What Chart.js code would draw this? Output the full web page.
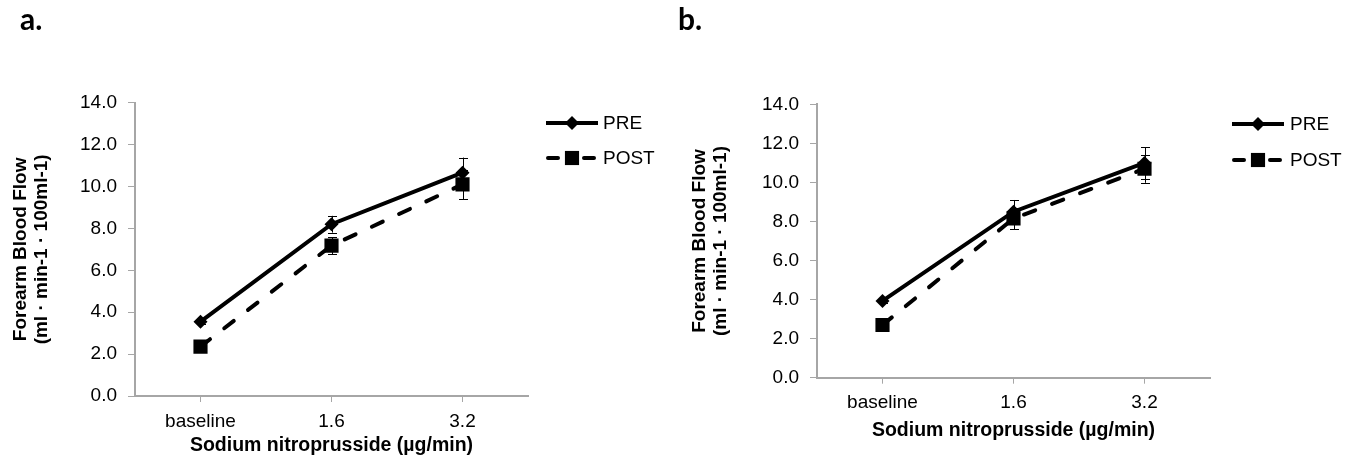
<!DOCTYPE html>
<html>
<head>
<meta charset="utf-8">
<script src="https://cdn.jsdelivr.net/npm/chart.js@4.4.1/dist/chart.umd.min.js"></script>
<style>
  html, body { margin: 0; padding: 0; background: #fff; }
  #wrap { position: relative; width: 1358px; height: 464px; overflow: hidden; }
  .panel { position: absolute; top: 0; height: 464px; }
</style>
</head>
<body>
<div id="wrap">
  <div class="panel" style="left:0;width:670px"><canvas id="chartA" width="670" height="464"></canvas></div>
  <div class="panel" style="left:670px;width:688px"><canvas id="chartB" width="688" height="464"></canvas></div>
</div>
<script>
// categories and tick labels
const doses = ["baseline", "1.6", "3.2"];
const seriesNames = ["PRE", "POST"];
const yTicks = [0, 2, 4, 6, 8, 10, 12, 14];
const xTitle = "Sodium nitroprusside (\u00b5g/min)";
const yTitle = ["Forearm Blood Flow", "(ml \u00b7 min-1 \u00b7 100ml-1)"];

// panel a
const preA = [3.55, 8.2, 10.66];
const postA = [2.36, 7.18, 10.1];
const preErrA = [0.1, 0.4, 0.72];
const postErrA = [0.15, 0.4, 0.7];

// panel b
const preB = [3.93, 8.5, 11.0];
const postB = [2.7, 8.15, 10.7];
const preErrB = [0.1, 0.6, 0.8];
const postErrB = [0.15, 0.55, 0.72];

const AXIS_GREY = "#a6a6a6";
const FONT = "'Liberation Sans', Arial, sans-serif";

// vertical error bars with caps
const errorBars = {
  id: "errorBars",
  afterDatasetsDraw(chart, args, opts) {
    const ctx = chart.ctx;
    const y = chart.scales.y;
    ctx.save();
    ctx.strokeStyle = "#000";
    ctx.lineWidth = 1;
    chart.data.datasets.forEach((ds, i) => {
      const errs = opts.errors[i];
      chart.getDatasetMeta(i).data.forEach((pt, j) => {
        const top = y.getPixelForValue(ds.data[j] + errs[j]);
        const bot = y.getPixelForValue(ds.data[j] - errs[j]);
        const x = Math.round(pt.x) + 0.5;
        ctx.beginPath();
        ctx.moveTo(x, top); ctx.lineTo(x, bot);
        ctx.moveTo(x - 4.5, Math.round(top) + 0.5); ctx.lineTo(x + 4.5, Math.round(top) + 0.5);
        ctx.moveTo(x - 4.5, Math.round(bot) + 0.5); ctx.lineTo(x + 4.5, Math.round(bot) + 0.5);
        ctx.stroke();
      });
    });
    ctx.restore();
  }
};

// legend drawn as line + marker, like the original
const seriesKey = {
  id: "seriesKey",
  afterDraw(chart, args, opts) {
    const ctx = chart.ctx;
    ctx.save();
    chart.data.datasets.forEach((ds, i) => {
      const yy = opts.rows[i];
      ctx.strokeStyle = "#000";
      ctx.fillStyle = "#000";
      ctx.lineWidth = 4;
      ctx.lineCap = ds.borderDash.length ? "round" : "butt";
      ctx.setLineDash(ds.borderDash.length ? [10, 26] : []);
      ctx.beginPath();
      const inset = ds.borderDash.length ? 2 : 0;
      ctx.moveTo(opts.x0 + inset, yy);
      ctx.lineTo(opts.x1 - inset, yy);
      ctx.stroke();
      ctx.setLineDash([]);
      Chart.helpers.drawPoint(ctx, {
        pointStyle: ds.pointStyle, radius: ds.pointRadius, rotation: 0, borderWidth: 0
      }, (opts.x0 + opts.x1) / 2, yy);
      ctx.font = "19px " + FONT;
      ctx.textBaseline = "middle";
      ctx.textAlign = "left";
      ctx.fillText(ds.label, opts.textX, yy + 1);
    });
    ctx.restore();
  }
};

const panelLabel = {
  id: "panelLabel",
  afterDraw(chart, args, opts) {
    const ctx = chart.ctx;
    ctx.save();
    ctx.fillStyle = "#000";
    ctx.font = "bold 30px Lato, 'Open Sans', sans-serif";
    ctx.textBaseline = "alphabetic";
    ctx.fillText(opts.text, opts.x, opts.y);
    ctx.restore();
  }
};

function buildChart(id, cfg) {
  const canvas = document.getElementById(id);
  const W = canvas.width, H = canvas.height;
  return new Chart(canvas, {
    type: "line",
    data: {
      labels: doses,
      datasets: [
        {
          label: seriesNames[0],
          data: cfg.pre,
          borderColor: "#000",
          backgroundColor: "#000",
          borderWidth: 4,
          borderDash: [],
          pointStyle: "rectRot",
          pointRadius: 7,
          pointBorderWidth: 0,
          tension: 0,
          order: 1
        },
        {
          label: seriesNames[1],
          data: cfg.post,
          borderColor: "#000",
          backgroundColor: "#000",
          borderWidth: 4,
          borderDash: [12, 18],
          borderCapStyle: "round",
          pointStyle: "rect",
          pointRadius: 10,
          pointBorderWidth: 0,
          tension: 0,
          order: 0
        }
      ]
    },
    options: {
      responsive: false,
      animation: false,
      devicePixelRatio: 1,
      layout: {
        padding: { left: 0, top: cfg.area.top, right: W - cfg.area.right, bottom: 0 }
      },
      plugins: {
        legend: { display: false },
        tooltip: { enabled: false },
        errorBars: { errors: [cfg.preErr, cfg.postErr] },
        seriesKey: cfg.key,
        panelLabel: cfg.label
      },
      scales: {
        x: {
          offset: true,
          afterFit: s => { s.height = H - cfg.area.bottom; },
          border: { display: true, color: AXIS_GREY, width: 2 },
          grid: { display: true, drawOnChartArea: false, drawTicks: true, tickLength: 6, color: AXIS_GREY, offset: false },
          ticks: { color: "#000", font: { family: FONT, size: 19 }, padding: 8, maxRotation: 0 },
          title: {
            display: true, text: xTitle, color: "#000",
            font: { family: FONT, size: 19.5, weight: "bold" },
            padding: { top: 0, bottom: cfg.xTitlePad }
          }
        },
        y: {
          min: 0,
          max: 14,
          afterFit: s => { s.width = cfg.area.left; },
          afterBuildTicks: s => { s.ticks = yTicks.map(v => ({ value: v })); },
          border: { display: true, color: AXIS_GREY, width: 2 },
          grid: { display: true, drawOnChartArea: false, drawTicks: true, tickLength: 7, color: AXIS_GREY },
          ticks: {
            color: "#000",
            font: { family: FONT, size: 19 },
            padding: 11,
            callback: v => v.toFixed(1)
          },
          title: {
            display: true, text: yTitle, color: "#000",
            font: { family: FONT, size: 19, weight: "bold", lineHeight: 1.1 },
            padding: { top: cfg.yTitlePad, bottom: 0 }
          }
        }
      }
    },
    plugins: [errorBars, seriesKey, panelLabel]
  });
}

buildChart("chartA", {
  pre: preA, post: postA, preErr: preErrA, postErr: postErrA,
  area: { left: 135, right: 528, top: 102.7, bottom: 396 },
  xTitlePad: 7,
  yTitlePad: 10.5,
  key: { x0: 546, x1: 598, rows: [123, 158], textX: 603 },
  label: { text: "a.", x: 20, y: 30 }
});

buildChart("chartB", {
  pre: preB, post: postB, preErr: preErrB, postErr: postErrB,
  area: { left: 147, right: 540, top: 104.3, bottom: 377.7 },
  xTitlePad: 22,
  yTitlePad: 19.5,
  key: { x0: 562, x1: 614, rows: [124, 160], textX: 620 },
  label: { text: "b.", x: 8, y: 30 }
});
</script>
</body>
</html>
